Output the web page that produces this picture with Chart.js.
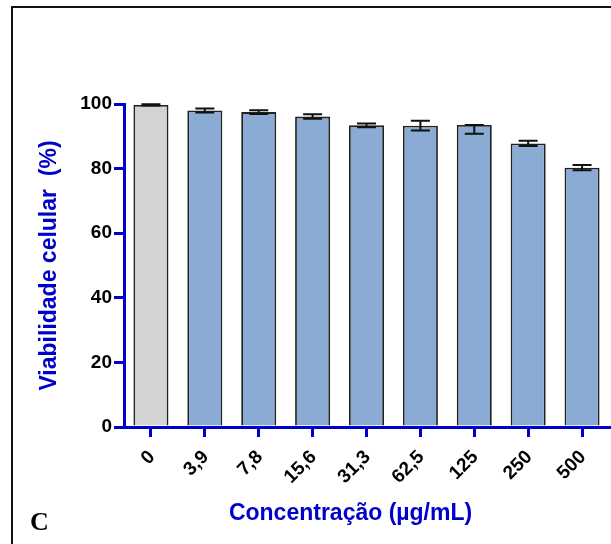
<!DOCTYPE html>
<html>
<head>
<meta charset="utf-8">
<script src="https://cdn.jsdelivr.net/npm/chart.js@4"></script>
<style>
  html, body { margin: 0; padding: 0; background: #fff; }
  #wrap { position: relative; width: 611px; height: 544px; overflow: hidden; }
  #frame { position: absolute; left: 11px; top: 6px; width: 700px; height: 700px;
           border-left: 2px solid #111; border-top: 2px solid #111; }
  #panel { position: absolute; left: 30px; top: 507px; font: bold 26px "Liberation Serif", serif; color: #000; }
  canvas { position: absolute; left: 0; top: 0; }
</style>
</head>
<body>
<div id="wrap">
  <div id="frame"></div>
  <canvas id="chart" width="611" height="544"></canvas>
  <div id="panel">C</div>
</div>
<script>
// concentrations (ug/mL) and cell viability (%)
const concLabels = ['0', '3,9', '7,8', '15,6', '31,3', '62,5', '125', '250', '500'];
const viability  = [99.7, 98.0, 97.5, 96.1, 93.4, 93.3, 93.5, 87.8, 80.3];
const errUp      = [0.2, 0.6, 0.6, 0.7, 0.6, 1.5, 0, 0.8, 0.8];
const errDown    = [0.2, 0.6, 0.6, 0.7, 0.6, 1.5, 2.7, 0.8, 0.8];
const barColors  = ['#d3d3d3', '#8aabd3', '#8aabd3', '#8aabd3', '#8aabd3', '#8aabd3', '#8aabd3', '#8aabd3', '#8aabd3'];
const yTicks     = [0, 20, 40, 60, 80, 100];

const blue = '#0000cc';

// draw the error bars on top of the bars
const errorBars = {
  id: 'errorBars',
  afterDatasetsDraw(chart) {
    const ctx = chart.ctx;
    const y = chart.scales.y;
    const meta = chart.getDatasetMeta(0);
    ctx.save();
    ctx.strokeStyle = '#111';
    ctx.lineWidth = 2;
    meta.data.forEach((bar, i) => {
      const top = y.getPixelForValue(viability[i] + errUp[i]);
      const bot = y.getPixelForValue(viability[i] - errDown[i]);
      const half = 9.5;
      ctx.beginPath();
      ctx.moveTo(bar.x, top); ctx.lineTo(bar.x, bot);
      ctx.moveTo(bar.x - half, top); ctx.lineTo(bar.x + half, top);
      ctx.moveTo(bar.x - half, bot); ctx.lineTo(bar.x + half, bot);
      ctx.stroke();
    });
    ctx.restore();
  }
};

const data = {
  labels: concLabels,
  datasets: [{
    data: viability,
    backgroundColor: barColors,
    borderColor: '#222',
    borderWidth: 1.8,
    categoryPercentage: 1,
    barPercentage: 0.65
  }]
};

const config = {
  type: 'bar',
  data,
  options: {
    responsive: false,
    animation: false,
    layout: { padding: { top: 104, right: 2, left: 0, bottom: 0 } },
    plugins: { legend: { display: false }, tooltip: { enabled: false } },
    scales: {
      y: {
        min: 0,
        max: 100,
        afterFit: (s) => { s.width = 124; },
        afterBuildTicks: (s) => { s.ticks = yTicks.map(v => ({ value: v })); },
        border: { color: blue, width: 3 },
        grid: { drawOnChartArea: false, color: blue, lineWidth: 3, tickLength: 10 },
        ticks: { color: '#000', padding: 2, font: { family: 'Liberation Sans', size: 19, weight: 'bold' } },
        title: {
          display: true,
          text: 'Viabilidade celular  (%)',
          color: blue,
          padding: { top: 36, bottom: 0 },
          font: { family: 'Liberation Sans', size: 23, weight: 'bold' }
        }
      },
      x: {
        afterFit: (s) => { s.height = 117; },
        border: { color: blue, width: 3 },
        grid: { offset: false, drawOnChartArea: false, color: blue, lineWidth: 3, tickLength: 10 },
        ticks: {
          color: '#000', padding: 9, labelOffset: 1, minRotation: 45, maxRotation: 45,
          font: { family: 'Liberation Sans', size: 19, weight: 'bold' }
        },
        title: {
          display: true,
          // trailing spaces pull the centred title a bit to the left, like the original
          text: 'Concentração (µg/mL)\u00a0\u00a0\u00a0\u00a0\u00a0',
          color: blue,
          padding: { top: 0, bottom: 17 },
          font: { family: 'Liberation Sans', size: 23, weight: 'bold' }
        }
      }
    }
  },
  plugins: [errorBars]
};

const ctx = document.getElementById('chart').getContext('2d');
const myChart = new Chart(ctx, config);
</script>
</body>
</html>
